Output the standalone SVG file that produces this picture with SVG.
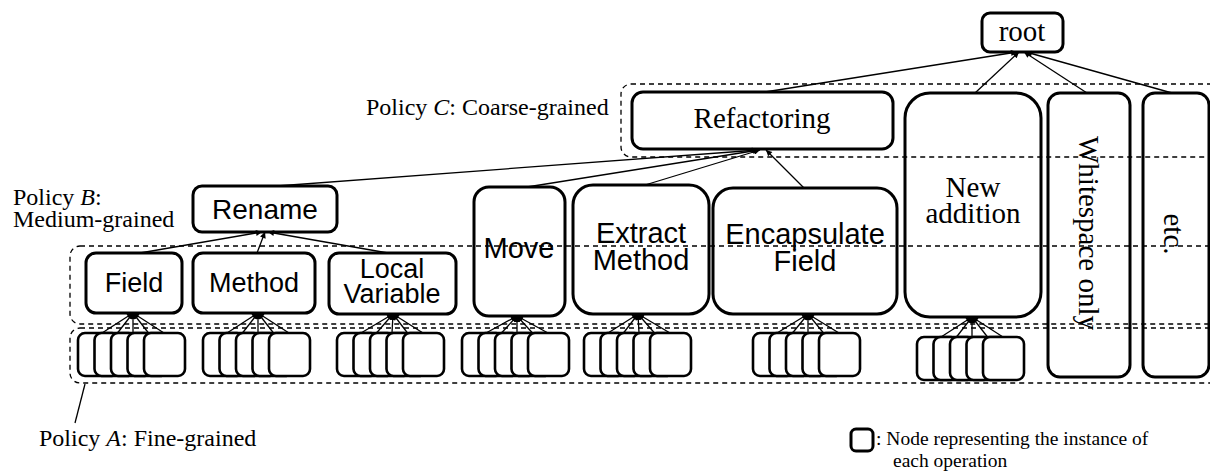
<svg xmlns="http://www.w3.org/2000/svg" xmlns:xlink="http://www.w3.org/1999/xlink" width="1210" height="474" viewBox="0 0 1210 474">
<style>
.box{fill:none;stroke:#000;stroke-width:3}
.inst{fill:#fff;stroke:#000;stroke-width:2.6}
.dash{fill:none;stroke:#000;stroke-width:1.3;stroke-dasharray:5 4}
.edge{fill:none;stroke:#000;stroke-width:1.3;marker-end:url(#ah)}
.ser{font-family:"Liberation Serif","Times New Roman",serif;fill:#000}
.san{font-family:"Liberation Sans",Arial,sans-serif;fill:#000}
.lbl{font-size:29px;text-anchor:middle}
.pol{font-size:24px}
</style>
<defs>
<marker id="ah" viewBox="0 0 10 10" refX="10" refY="5" markerWidth="7" markerHeight="6" markerUnits="userSpaceOnUse" orient="auto">
<path d="M0,0 L10,5 L0,10 z" fill="#000"/>
</marker>
<g id="stack">
<rect class="inst" x="0" y="0" width="41" height="43" rx="7"/>
<rect class="inst" x="16.5" y="0" width="41" height="43" rx="7"/>
<rect class="inst" x="33" y="0" width="41" height="43" rx="7"/>
<rect class="inst" x="49.5" y="0" width="41" height="43" rx="7"/>
<rect class="inst" x="66" y="0" width="41" height="43" rx="7"/>
</g>
</defs>

<g id="policies">
<rect class="dash" x="621" y="84" width="620" height="73" rx="10"/>
<rect class="dash" x="70" y="246" width="1170" height="78" rx="10"/>
<rect class="dash" x="70" y="328" width="1170" height="55" rx="10"/>
<line x1="85" y1="384" x2="75" y2="423" stroke="#000" stroke-width="1.3"/>
<text class="ser pol" x="366" y="115">Policy <tspan font-style="italic">C</tspan>: Coarse-grained</text>
<text class="ser pol" x="13" y="205">Policy <tspan font-style="italic">B</tspan>:<tspan x="13" dy="22">Medium-grained</tspan></text>
<text class="ser pol" x="39" y="446">Policy <tspan font-style="italic">A</tspan>: Fine-grained</text>
</g>

<g id="root">
<rect class="box" x="982" y="13" width="81" height="39" rx="8"/>
<text class="ser lbl" x="1022" y="41">root</text>
</g>
<g id="refactoring">
<rect class="box" x="632" y="92" width="261" height="57" rx="11"/>
<text class="ser lbl" x="762" y="128">Refactoring</text>
</g>
<g id="new-addition">
<rect class="box" x="905" y="93" width="136" height="224" rx="25"/>
<text class="ser lbl" x="973" y="197">New<tspan x="973" dy="26">addition</tspan></text>
</g>
<g id="whitespace-only">
<rect class="box" x="1048" y="93" width="82" height="284" rx="12"/>
<text class="ser lbl" transform="translate(1079,233) rotate(90)" x="0" y="0">Whitespace only</text>
</g>
<g id="etc">
<rect class="box" x="1143" y="93" width="66" height="284" rx="12"/>
<text class="ser lbl" transform="translate(1164,234) rotate(90)" x="0" y="0">etc.</text>
</g>
<g id="rename">
<rect class="box" x="193" y="186" width="144" height="46" rx="9"/>
<text class="san" font-size="28" text-anchor="middle" x="265" y="219">Rename</text>
</g>
<g id="move">
<rect class="box" x="474" y="187" width="91" height="129" rx="15"/>
<text class="san lbl" x="519" y="258">Move</text>
</g>
<g id="extract-method">
<rect class="box" x="573" y="185" width="136" height="129" rx="20"/>
<text class="san lbl" x="641" y="243">Extract<tspan x="641" dy="27">Method</tspan></text>
</g>
<g id="encapsulate-field">
<rect class="box" x="713" y="188" width="184" height="126" rx="20"/>
<text class="san lbl" x="805" y="244">Encapsulate<tspan x="805" dy="27">Field</tspan></text>
</g>
<g id="field">
<rect class="box" x="86" y="253" width="96" height="60" rx="10"/>
<text class="san" font-size="27" text-anchor="middle" x="134" y="292">Field</text>
</g>
<g id="method">
<rect class="box" x="193" y="253" width="122" height="60" rx="10"/>
<text class="san" font-size="27" text-anchor="middle" x="254" y="292">Method</text>
</g>
<g id="local-variable">
<rect class="box" x="329" y="253" width="127" height="61" rx="10"/>
<text class="san" font-size="27" text-anchor="middle" x="392" y="278">Local<tspan x="392" dy="25">Variable</tspan></text>
</g>

<g id="instances">
<use xlink:href="#stack" href="#stack" x="78" y="333"/>
<use xlink:href="#stack" href="#stack" x="203" y="333"/>
<use xlink:href="#stack" href="#stack" x="337" y="333"/>
<use xlink:href="#stack" href="#stack" x="462" y="333"/>
<use xlink:href="#stack" href="#stack" x="584" y="333"/>
<use xlink:href="#stack" href="#stack" x="753" y="333"/>
<use xlink:href="#stack" href="#stack" x="917" y="337"/>
</g>

<g id="legend">
<rect x="851" y="429" width="22" height="22" rx="5" fill="#fff" stroke="#000" stroke-width="3"/>
<text class="ser" font-size="19.5" x="876" y="445">:  Node representing the instance of<tspan x="893" dy="22">each operation</tspan></text>
</g>

<g id="connectors">
<line class="edge" x1="765" y1="92" x2="1017" y2="52"/>
<line class="edge" x1="975" y1="93" x2="1019" y2="52"/>
<line class="edge" x1="1087" y1="93" x2="1024" y2="52"/>
<line class="edge" x1="1172" y1="93" x2="1026" y2="52"/>
<line class="edge" x1="277" y1="186" x2="758" y2="150"/>
<line class="edge" x1="527" y1="187" x2="759" y2="150"/>
<line class="edge" x1="645" y1="185" x2="760" y2="150"/>
<line class="edge" x1="804" y1="188" x2="766" y2="150"/>
<line class="edge" x1="140" y1="253" x2="262" y2="232"/>
<line class="edge" x1="257" y1="253" x2="265" y2="232"/>
<line class="edge" x1="388" y1="253" x2="268" y2="232"/>
<line class="edge" x1="102" y1="333" x2="133" y2="313"/>
<line class="edge" x1="117.5" y1="333" x2="133" y2="313"/>
<line class="edge" x1="133" y1="333" x2="133" y2="313"/>
<line class="edge" x1="148.5" y1="333" x2="133" y2="313"/>
<line class="edge" x1="164" y1="333" x2="133" y2="313"/>
<line class="edge" x1="227" y1="333" x2="258" y2="313"/>
<line class="edge" x1="242.5" y1="333" x2="258" y2="313"/>
<line class="edge" x1="258" y1="333" x2="258" y2="313"/>
<line class="edge" x1="273.5" y1="333" x2="258" y2="313"/>
<line class="edge" x1="289" y1="333" x2="258" y2="313"/>
<line class="edge" x1="361" y1="333" x2="393" y2="314"/>
<line class="edge" x1="376.5" y1="333" x2="393" y2="314"/>
<line class="edge" x1="392" y1="333" x2="393" y2="314"/>
<line class="edge" x1="407.5" y1="333" x2="393" y2="314"/>
<line class="edge" x1="423" y1="333" x2="393" y2="314"/>
<line class="edge" x1="486" y1="333" x2="517" y2="316"/>
<line class="edge" x1="501.5" y1="333" x2="517" y2="316"/>
<line class="edge" x1="517" y1="333" x2="517" y2="316"/>
<line class="edge" x1="532.5" y1="333" x2="517" y2="316"/>
<line class="edge" x1="548" y1="333" x2="517" y2="316"/>
<line class="edge" x1="608" y1="333" x2="638" y2="314"/>
<line class="edge" x1="623.5" y1="333" x2="638" y2="314"/>
<line class="edge" x1="639" y1="333" x2="638" y2="314"/>
<line class="edge" x1="654.5" y1="333" x2="638" y2="314"/>
<line class="edge" x1="670" y1="333" x2="638" y2="314"/>
<line class="edge" x1="777" y1="333" x2="808" y2="314"/>
<line class="edge" x1="792.5" y1="333" x2="808" y2="314"/>
<line class="edge" x1="808" y1="333" x2="808" y2="314"/>
<line class="edge" x1="823.5" y1="333" x2="808" y2="314"/>
<line class="edge" x1="839" y1="333" x2="808" y2="314"/>
<line class="edge" x1="941" y1="337" x2="972" y2="317"/>
<line class="edge" x1="956.5" y1="337" x2="972" y2="317"/>
<line class="edge" x1="972" y1="337" x2="972" y2="317"/>
<line class="edge" x1="987.5" y1="337" x2="972" y2="317"/>
<line class="edge" x1="1003" y1="337" x2="972" y2="317"/>
</g>
</svg>
